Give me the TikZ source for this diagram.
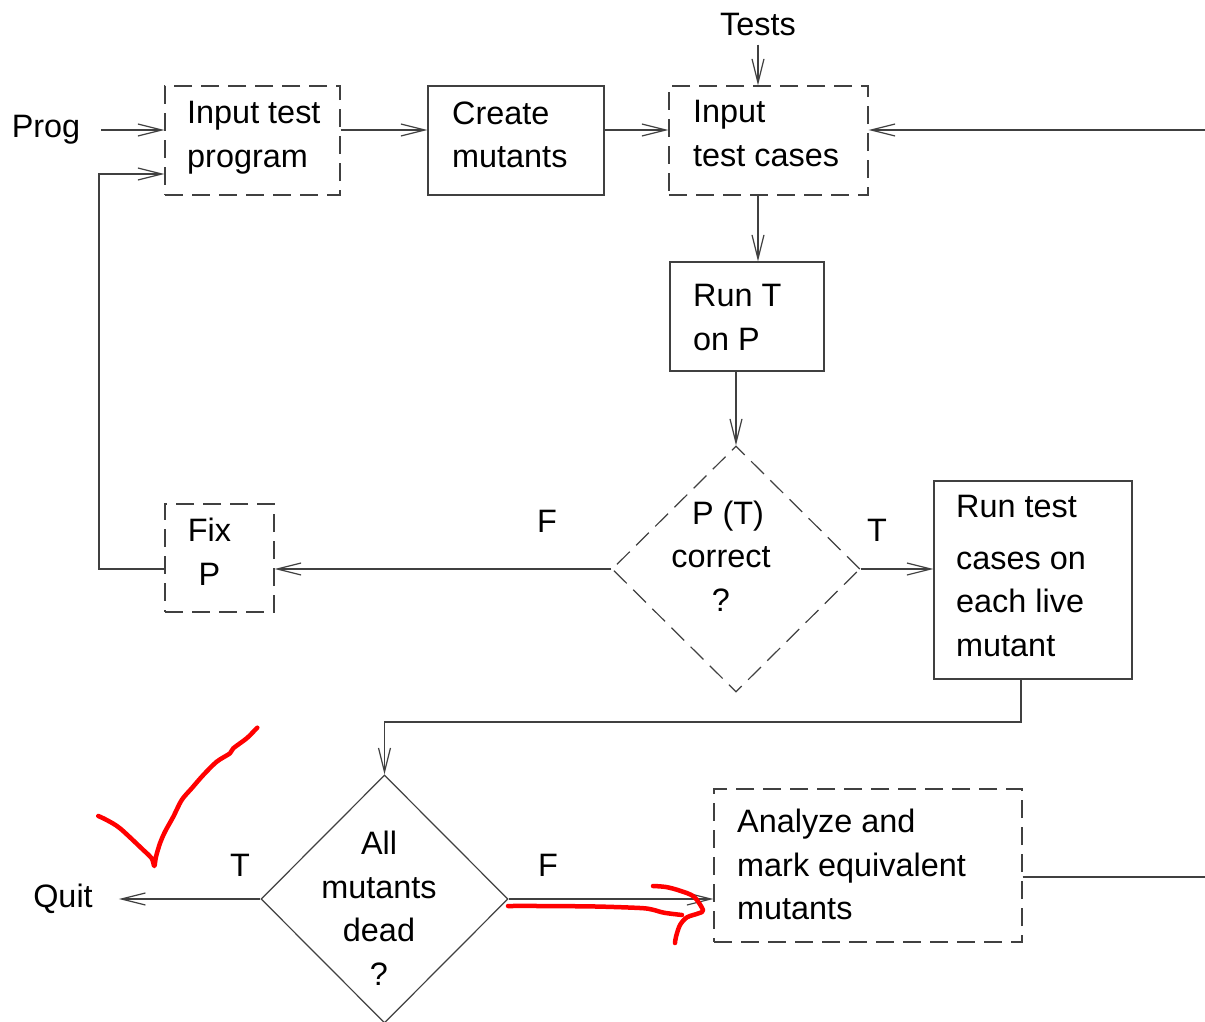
\documentclass[tikz,border=0pt]{standalone}
\usepackage{fontspec}
\setmainfont{Liberation Sans}
\usetikzlibrary{shapes.geometric,arrows.meta}

\begin{document}
\begin{tikzpicture}[x=1pt,y=-1pt,
  every node/.style={font=\fontsize{32.4}{43.5}\selectfont, text=black},
  line/.style={draw=black!75, line width=1.2pt},
  arr/.style={line, -{Straight Barb[length=24pt,width=12pt]}},
  dashedline/.style={dash pattern=on 18pt off 9pt},
  box/.style={line, rectangle, inner sep=0pt},
  dia/.style={line, diamond, inner sep=0pt},
  txt/.style={inner sep=0pt, anchor=north west, align=left},
  ctxt/.style={inner sep=0pt, anchor=north, align=center},
  lbl/.style={anchor=base, inner sep=0pt},
  pen/.style={draw=red, line width=4.5pt, line cap=round, line join=round}
]
\useasboundingbox (0,0) rectangle (1205,1021);
\fill[white] (0,0) rectangle (1205,1021);

% process boxes and decisions
\node[box, dashedline, minimum width=175pt, minimum height=109pt] (itp) at (252.5,140.5) {};
\node[box, minimum width=176pt, minimum height=109pt] (cm) at (516,140.5) {};
\node[box, dashedline, minimum width=199pt, minimum height=109pt] (itc) at (768.5,140.5) {};
\node[box, minimum width=154pt, minimum height=109pt] (rt) at (747,316.5) {};
\node[dia, dashedline, minimum width=248pt, minimum height=246pt] (d1) at (736,569) {};
\node[box, dashedline, minimum width=109pt, minimum height=108pt] (fix) at (219.5,558) {};
\node[box, minimum width=198pt, minimum height=198pt] (rtc) at (1033,580) {};
\node[dia, minimum width=247pt, minimum height=248pt] (d2) at (384.5,899) {};
\node[box, dashedline, minimum width=308pt, minimum height=153pt] (az) at (868,865.5) {};

% texts inside the shapes
\node[txt] (itp-t) at (187,92.9) {\strut Input test\\program};
\node[txt] (cm-t) at (452,93.5) {\strut Create\\mutants};
\node[txt] (itc-t) at (693,92.3) {\strut Input\\test cases};
\node[txt] (rt-t) at (693,276.3) {\strut Run T\\on P};
\node[txt] (rtc-t) at (956,487.3) {\strut Run test\\[8pt]cases on\\each live\\mutant};
\node[txt] (az-t) at (737,801.9) {\strut Analyze and\\mark equivalent\\mutants};
\node[ctxt] (fix-t) at (209.5,511) {\strut Fix\\P};
\node[ctxt] (d1-t) at (721,493.5) {\strut\hspace*{14pt}P (T)\\correct\\?};
\node[ctxt] (d2-t) at (379,823.9) {\strut All\\mutants\\dead\\?};

% inputs and outputs
\node[inner xsep=21pt, inner ysep=0pt] (prog) at (46,130) {Prog};
\node[inner xsep=0pt, inner ysep=8pt] (tests) at (758,25) {Tests};
\node[inner xsep=26pt, inner ysep=0pt] (quit) at (63,899) {\raisebox{-3pt}{Quit}};
\coordinate (rin) at (1205,130);
\coordinate (rout) at (1205,877);
\coordinate (loop) at (99,174);
\coordinate (bend) at (1021,722);

% branch labels
\node[lbl] (f1) at (547,532.5) {F};
\node[lbl] (t1) at (877,541.5) {T};
\node[lbl] (t2) at (240,876.7) {T};
\node[lbl] (f2) at (548,876.5) {F};

% connectors
\draw[arr] (prog.east) -- (prog.east -| itp.west);
\draw[arr] (itp.east |- prog) -- (cm.west |- prog);
\draw[arr] (cm.east |- prog) -- (itc.west |- prog);
\draw[arr] (rin) -- (itc.east |- rin);
\draw[arr] (tests.south) -- (tests.south |- itc.north);
\draw[arr] (itc.south -| tests) -- (rt.north -| tests);
\draw[arr] (rt.south -| d1.north) -- (d1.north);
\draw[arr] (d1.west) -- (fix.east |- d1.west);
\draw[arr] (fix.west |- d1.west) -| (loop) -- (loop -| itp.west);
\draw[arr] (d1.east) -- (rtc.west |- d1.east);
\draw[arr] (rtc.south -| bend) -- (bend) -| (d2.north);
\draw[arr] (d2.west) -- (quit.east);
\draw[arr] (d2.east) -- (az.west |- d2.east);
\draw[line] (az.east |- rout) -- (rout);

% red pen marks
\draw[pen] plot[smooth, tension=0.5] coordinates {
  (98.3,816) (106.7,820) (120,828.3) (143.3,850) (151.7,858.3) (154.3,866)
  (156,856.7) (160,843.3) (165,831.7) (173.3,816.7) (181.7,800) (191.7,788.3)
  (203.3,775) (216.7,761.7) (230,753.3) (233.3,748.3) (246.7,738.3) (255,730) (257.3,727.7)};
\draw[pen] plot[smooth, tension=0.5] coordinates {
  (508,906) (540,906) (596,906.5) (640,908) (652,909.5) (664,912.7) (682,915)};
\draw[pen] plot[smooth, tension=0.5] coordinates {
  (653,886) (666,887) (680,890.7) (694,896.7) (703,910) (698.6,913.3)
  (687,917.3) (680,925) (676,936.7) (675,943)};
\end{tikzpicture}
\end{document}
